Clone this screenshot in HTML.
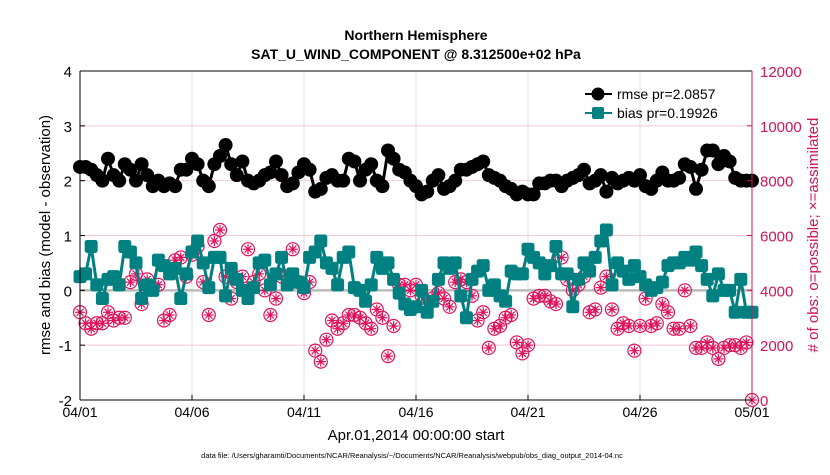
<!DOCTYPE html>
<html><head><meta charset="utf-8"><style>
body{margin:0;background:#fff;font-family:"Liberation Sans",sans-serif}
svg text{font-family:"Liberation Sans",sans-serif}
</style></head><body>
<svg id="c" width="830" height="470" xmlns="http://www.w3.org/2000/svg">
<text x="416" y="40" text-anchor="middle" font-size="14" font-weight="bold">Northern Hemisphere</text>
<text x="416" y="59" text-anchor="middle" font-size="14" font-weight="bold">SAT_U_WIND_COMPONENT @ 8.312500e+02 hPa</text>
<g id="grid"></g><g id="marks"></g><g id="axes"></g>
<text x="416" y="440" text-anchor="middle" font-size="15">Apr.01,2014 00:00:00 start</text>
<text transform="translate(50,235) rotate(-90)" text-anchor="middle" font-size="15">rmse and bias (model - observation)</text>
<text transform="translate(818,235) rotate(-90)" text-anchor="middle" font-size="15" fill="#d0145a"># of obs: o=possible; ×=assimilated</text>
<text x="412" y="458" text-anchor="middle" font-size="7.5">data file: /Users/gharamti/Documents/NCAR/Reanalysis/~/Documents/NCAR/Reanalysis/webpub/obs_diag_output_2014-04.nc</text>
<g>
<line x1="585" y1="94" x2="612" y2="94" stroke="#000" stroke-width="2"/><circle cx="598" cy="94" r="6.5" fill="#000"/>
<text x="617" y="99" font-size="14">rmse pr=2.0857</text>
<line x1="585" y1="113" x2="612" y2="113" stroke="#008080" stroke-width="2"/><rect x="592" y="107" width="12" height="12" rx="2" fill="#008080"/>
<text x="617" y="118" font-size="14">bias pr=0.19926</text>
</g>
</svg>
<script>
const xTicks=["04/01","04/06","04/11","04/16","04/21","04/26","05/01"];
const yLeftTicks=[-2,-1,0,1,2,3,4];
const yRightTicks=[0,2000,4000,6000,8000,10000,12000];
const rmse=[2.25,2.25,2.2,2.1,2.0,2.4,2.1,2.0,2.3,2.2,2.0,2.3,2.1,1.9,2.0,1.9,1.95,1.9,2.2,2.2,2.4,2.3,2.0,1.9,2.3,2.45,2.65,2.3,2.1,2.35,2.0,1.95,2.0,2.1,2.15,2.35,2.1,1.9,1.95,2.15,2.3,2.2,1.8,1.85,2.05,2.1,2.0,2.0,2.4,2.35,2.0,2.2,2.3,2.0,1.9,2.55,2.4,2.2,2.15,2.0,1.9,1.75,1.8,2.0,2.1,1.85,1.9,2.0,2.2,2.2,2.25,2.3,2.35,2.1,2.05,2.0,1.9,1.85,1.75,1.8,1.75,1.75,1.95,1.95,2.0,2.0,1.9,2.0,2.05,2.1,2.2,1.95,2.0,2.1,1.8,2.05,1.95,2.0,2.05,2.0,2.1,1.9,1.85,2.0,2.15,2.0,2.0,2.05,2.3,2.25,1.85,2.2,2.55,2.55,2.3,2.45,2.35,2.05,2.0,2.0,2.0];
const bias=[0.25,0.3,0.8,0.1,-0.15,0.2,0.25,0.1,0.8,0.7,0.5,-0.15,0.1,0.0,0.55,0.45,0.3,0.4,-0.15,0.3,0.7,0.9,0.5,0.05,0.6,0.6,-0.1,0.4,0.2,0.0,-0.15,0.05,0.5,0.55,0.1,0.3,0.6,0.1,0.3,0.15,0.05,0.6,0.7,0.9,0.5,0.4,0.1,0.6,0.7,0.05,0.0,-0.2,0.1,0.6,0.4,0.5,0.2,-0.05,-0.25,-0.35,-0.3,0.0,-0.4,-0.2,0.2,0.5,0.4,0.5,-0.1,-0.5,0.2,0.35,0.45,0.0,0.1,-0.1,-0.2,0.35,0.3,0.3,0.75,0.6,0.5,0.3,0.45,0.8,0.3,0.3,-0.3,0.2,0.5,0.35,0.6,0.9,1.1,0.1,0.5,0.35,0.2,0.45,0.25,0.1,0.0,0.05,0.15,0.45,0.5,0.5,0.6,0.55,0.7,0.45,0.2,-0.1,0.3,0.0,0.0,-0.4,0.2,-0.4,-0.4];
const nobs=[3200,2800,2600,2800,2800,3200,2900,3000,3000,4300,4600,3500,4400,4100,4200,2900,3100,5100,5200,4500,5300,5600,4300,3100,5800,6200,4500,3700,4300,4500,5500,4300,4600,4000,3100,3700,4500,4500,5500,4300,3900,4300,1800,1400,2200,2900,2600,2800,3100,3100,3000,2800,2600,3300,3000,1600,2700,4200,4200,4000,4200,3800,3500,3700,3900,3700,3400,4300,4400,4300,3800,2900,3200,1900,2600,2700,3000,3100,2100,1700,2000,3700,3800,3800,3600,3500,5200,4400,4000,4200,4500,3200,3300,4100,4500,3300,2600,2800,2700,1800,2700,3700,2700,2800,3500,3200,2600,2600,4000,2700,1900,1900,2100,1900,1500,1900,2000,2000,1900,2100,0];
const ns="http://www.w3.org/2000/svg";
const L=80,R=752,T=71,B=400;
const xs=i=>L+(R-L)*i/120;
const yl=v=>T+(4-v)*(B-T)/6;
const yr=v=>B-v*(B-T)/12000;
function mk(p,tag,a){const e=document.createElementNS(ns,tag);for(const k in a)e.setAttribute(k,a[k]);p.appendChild(e);return e;}
const grid=document.getElementById('grid'),marks=document.getElementById('marks'),axes=document.getElementById('axes');
xTicks.forEach((t,i)=>{const x=L+(R-L)*i/6;
 if(i>0&&i<6){const g=mk(grid,'line',{x1:x,x2:x,y1:T,y2:B,stroke:'#ddd','stroke-width':1});
 
 }
 const tx=mk(axes,'text',{x:x,y:B+17,'text-anchor':'middle','font-size':14});tx.textContent=t;
 
 
 mk(axes,'line',{x1:x,x2:x,y1:B,y2:B-5,stroke:'#000'});});
yRightTicks.forEach(v=>{const y=yr(v);
 if(v>0&&v<12000){const g=mk(grid,'line',{x1:L,x2:R,y1:y,y2:y,stroke:'#f6c8d8','stroke-width':1});
 
 }
 const tx=mk(axes,'text',{x:R+8,y:y+6,'font-size':15,fill:'#d0145a'});tx.textContent=v;
 
 
 mk(axes,'line',{x1:R,x2:R-5,y1:y,y2:y,stroke:'#d0145a'});});
yLeftTicks.forEach(v=>{const y=yl(v);
 const tx=mk(axes,'text',{x:L-8,y:y+6,'font-size':15,'text-anchor':'end'});tx.textContent=v;
 
 
 mk(axes,'line',{x1:L,x2:L+5,y1:y,y2:y,stroke:'#000'});});
const z=mk(grid,'line',{x1:L,x2:R,y1:yl(0),y2:yl(0),stroke:'#bbb','stroke-width':2.5});


mk(axes,'line',{x1:L,x2:R,y1:T,y2:T,stroke:'#000'});
mk(axes,'line',{x1:L,x2:R,y1:B,y2:B,stroke:'#000'});
mk(axes,'line',{x1:L,x2:L,y1:T,y2:B,stroke:'#000'});
mk(axes,'line',{x1:R,x2:R,y1:T,y2:B,stroke:'#d0145a'});
nobs.forEach((v,i)=>{const x=xs(i),y=yr(v);const g=mk(marks,'g',{stroke:'#e0105a',fill:'none','stroke-width':1.2});
 
 
 mk(g,'circle',{cx:x,cy:y,r:6.5});
 mk(g,'line',{x1:x-5,x2:x+5,y1:y,y2:y});mk(g,'line',{x1:x,x2:x,y1:y-5,y2:y+5});
 mk(g,'line',{x1:x-3.5,x2:x+3.5,y1:y-3.5,y2:y+3.5});mk(g,'line',{x1:x-3.5,x2:x+3.5,y1:y+3.5,y2:y-3.5});});
const bl=mk(marks,'polyline',{points:bias.map((v,i)=>xs(i)+','+yl(v)).join(' '),fill:'none',stroke:'#008080','stroke-width':3});


bias.forEach((v,i)=>{const r=mk(marks,'rect',{x:xs(i)-6.5,y:yl(v)-6.5,width:13,height:13,rx:2.5,fill:'#008080'});
 
 });
const rl=mk(marks,'polyline',{points:rmse.map((v,i)=>xs(i)+','+yl(v)).join(' '),fill:'none',stroke:'#000','stroke-width':3});


rmse.forEach((v,i)=>{const c=mk(marks,'circle',{cx:xs(i),cy:yl(v),r:7,fill:'#000'});
 
 });
</script>
</body></html>
